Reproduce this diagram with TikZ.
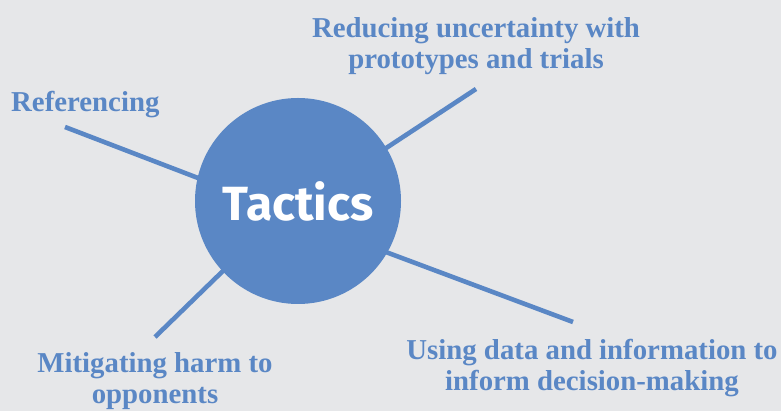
\documentclass[tikz,border=0pt]{standalone}
\usepackage{fontspec}
\setmainfont{Liberation Serif}
\newfontfamily\tacticsfont{Fira Sans}
\usetikzlibrary{
    positioning,
    backgrounds
}
\definecolor{tacticsblue}{HTML}{5A87C5}
\definecolor{paper}{HTML}{E6E7E9}
\pgfdeclarelayer{backdrop}
\pgfsetlayers{backdrop,background,main}

\begin{document}
\begin{tikzpicture}[
    x=1pt,
    y=1pt,
    hub/.style={
        circle,
        minimum size=206pt,
        inner sep=0pt,
        fill=tacticsblue,
        text=white,
        font=\tacticsfont\bfseries\fontsize{48}{52}\selectfont,
    },
    spoke/.style={
        line width=4.6pt,
        draw=tacticsblue,
        shorten <=-8pt,
    },
    topic/.style={
        align=center,
        inner sep=0pt,
        text=tacticsblue,
        font=\bfseries\fontsize{28.8}{31}\selectfont,
    },
]
    \begin{pgfonlayer}{backdrop}
        \fill[paper] (0,0) rectangle (781,411);
    \end{pgfonlayer}
    \useasboundingbox (0,0) rectangle (781,411);

    \node[hub] (tactics) at (298,210) {Tactics};

    \coordinate (refEnd)   at (65,284);
    \coordinate (protoEnd) at (476,322);
    \coordinate (dataEnd)  at (573,89);
    \coordinate (harmEnd)  at (155,74);

    \begin{scope}[on background layer]
        \draw[spoke] (tactics.167) -- (refEnd);
        \draw[spoke] (tactics.31)  -- (protoEnd);
        \draw[spoke] (tactics.330) -- (dataEnd);
        \draw[spoke] (tactics.223) -- (harmEnd);
    \end{scope}

    \node[topic, anchor=base west] (referencing) at (11,299) {Referencing};
    \node[topic, above=14pt of protoEnd] (prototypes) {Reducing uncertainty with\\prototypes and trials};
    \node[topic, below=15pt of harmEnd] (mitigating) {Mitigating harm to\\opponents};
    \node[topic] (datainfo) at (592,43) {Using data and information to\\inform decision-making};

\end{tikzpicture}
\end{document}
